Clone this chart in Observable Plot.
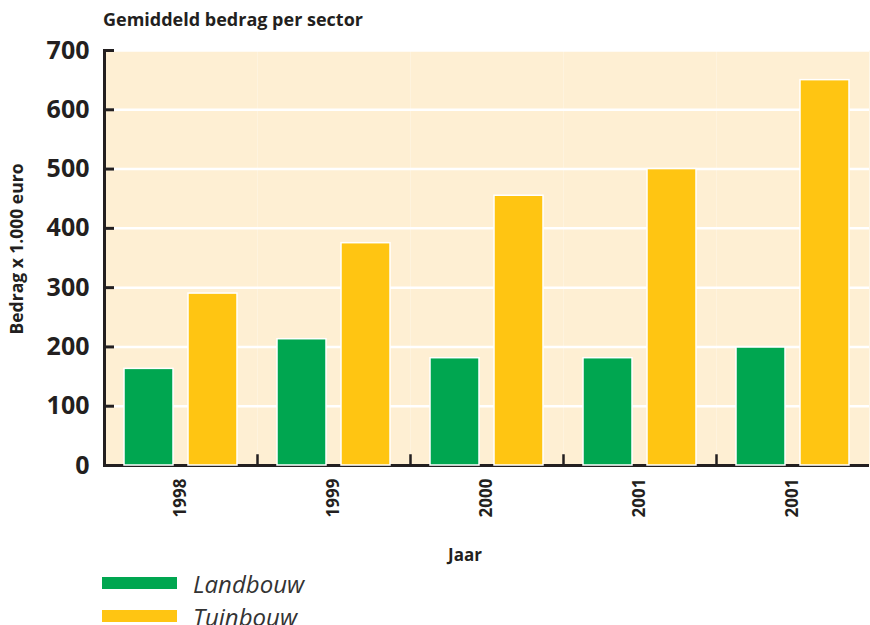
<!DOCTYPE html>
<html><head><meta charset="utf-8">
<script src="https://cdn.jsdelivr.net/npm/d3@7"></script>
<script src="https://cdn.jsdelivr.net/npm/@observablehq/plot@0.6"></script>
<style>
body{margin:0;background:#fff;font-family:"Open Sans",sans-serif;color:#231f20}
#wrap{position:relative;width:870px;height:625px;overflow:hidden}
#title{position:absolute;left:103px;top:8px;font-weight:bold;font-size:18px;line-height:22px}
#chart{position:absolute;left:0;top:34px}
#ylab{position:absolute;left:16px;top:249px;transform:translate(-50%,-50%) rotate(-90deg);white-space:nowrap;font-weight:bold;font-size:17.5px}
#xlab{position:absolute;left:465px;top:543px;transform:translateX(-50%);font-weight:bold;font-size:17px}
.leg{position:absolute;left:102px;height:30px;display:flex;align-items:center}
.sw{width:75px;height:12px;margin-right:16px}
.lt{font-style:italic;font-size:24px;color:#333}
</style></head>
<body>
<div id="wrap">
  <div id="title">Gemiddeld bedrag per sector</div>
  <div id="chart"></div>
  <div id="ylab">Bedrag x 1.000 euro</div>
  <div id="xlab">Jaar</div>
  <div id="legend"></div>
</div>
<script>
const years = ["1998", "1999", "2000", "2001", "2001"];
const series = ["Landbouw", "Tuinbouw"];
const landbouw = [163, 213, 181, 181, 199];
const tuinbouw = [290, 375, 455, 500, 650];
const colors = ["#00a650", "#ffc512"];
const yTicks = [0, 100, 200, 300, 400, 500, 600, 700];

const rows = years.flatMap((y, i) => [
  {g: i, s: series[0], v: landbouw[i]},
  {g: i, s: series[1], v: tuinbouw[i]}
]);

const ink = "#231f20";
const chart = Plot.plot({
  width: 870, height: 531,
  marginLeft: 103, marginRight: 0, marginTop: 16, marginBottom: 100,
  style: {fontFamily: "Open Sans", color: ink, background: "transparent", overflow: "visible"},
  fx: {domain: d3.range(years.length), padding: 0, tickFormat: i => years[i]},
  x: {domain: series, paddingInner: 0.23, paddingOuter: 0.3, axis: null},
  y: {domain: [0, 700]},
  color: {domain: series, range: colors},
  marks: [
    Plot.frame({fill: "#feefd3", stroke: "none"}),
    Plot.gridY(yTicks, {stroke: "#fff", strokeOpacity: 1, strokeWidth: 2.5}),
    Plot.frame({anchor: "left", stroke: ink, strokeWidth: 2.5, insetTop: 405}),
    Plot.ruleY([0], {stroke: ink, strokeWidth: 3}),
    Plot.tickY(yTicks, {y: d => d, fx: () => 0, stroke: ink, strokeWidth: 3, insetRight: 143}),
    Plot.frame({anchor: "left", fx: [0], stroke: ink, strokeWidth: 3}),
    Plot.barY(rows, {fx: "g", x: "s", y: "v", fill: "s", stroke: "#fff", strokeWidth: 1.5}),
    Plot.axisY(yTicks, {tickSize: 0, tickPadding: 15, fontSize: 25, fontWeight: "bold", label: null}),
    Plot.axisFx({anchor: "bottom", tickSize: 0, tickPadding: 13, tickRotate: -90, fontSize: 17, fontWeight: "bold", label: null, tickFormat: i => years[i]})
  ]
});
document.getElementById("chart").appendChild(chart);

const legend = document.getElementById("legend");
series.forEach((s, i) => {
  const row = document.createElement("div");
  row.className = "leg";
  row.style.top = (568 + i * 33) + "px";
  const sw = document.createElement("div");
  sw.className = "sw";
  sw.style.background = colors[i];
  const t = document.createElement("span");
  t.className = "lt";
  t.textContent = s;
  row.appendChild(sw); row.appendChild(t);
  legend.appendChild(row);
});
</script>
</body></html>
